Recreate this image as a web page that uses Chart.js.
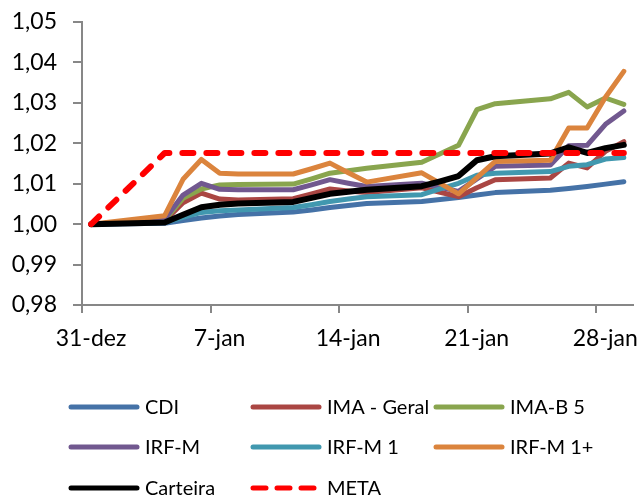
<!DOCTYPE html>
<html>
<head>
<meta charset="utf-8">
<script src="https://cdn.jsdelivr.net/npm/chart.js@4"></script>
<style>
  html, body { margin: 0; padding: 0; background: #fff; }
  #wrap { width: 641px; height: 498px; }
</style>
</head>
<body>
<div id="wrap"><canvas id="grafico" width="641" height="498"></canvas></div>
<script>
// dias úteis contados a partir de 31-dez
const dias = [0, 4, 5, 6, 7, 8, 11, 12, 13, 14, 15, 18, 19, 20, 21, 22, 25, 26, 27, 28, 29];
const diasTicks = [0, 7, 14, 21, 28];
const rotulosX = ['31-dez', '7-jan', '14-jan', '21-jan', '28-jan'];
const valoresY = [0.98, 0.99, 1.00, 1.01, 1.02, 1.03, 1.04, 1.05];

const cdi       = [1.0000, 1.0002, 1.0009, 1.0015, 1.0020, 1.0024, 1.0030, 1.0035, 1.0041, 1.0046, 1.0051, 1.0056, 1.0061, 1.0066, 1.0072, 1.0078, 1.0084, 1.0088, 1.0093, 1.0099, 1.0105];
const imaGeral  = [1.0000, 1.0008, 1.0053, 1.0077, 1.0062, 1.0060, 1.0063, 1.0075, 1.0087, 1.0082, 1.0078, 1.0090, 1.0079, 1.0068, 1.0090, 1.0110, 1.0114, 1.0151, 1.0139, 1.0180, 1.0204];
const imaB5     = [1.0000, 1.0010, 1.0064, 1.0087, 1.0097, 1.0098, 1.0099, 1.0112, 1.0126, 1.0132, 1.0138, 1.0153, 1.0174, 1.0195, 1.0283, 1.0298, 1.0310, 1.0326, 1.0290, 1.0312, 1.0296];
const irfM      = [1.0000, 1.0012, 1.0072, 1.0101, 1.0086, 1.0085, 1.0085, 1.0097, 1.0110, 1.0101, 1.0093, 1.0101, 1.0091, 1.0081, 1.0112, 1.0143, 1.0146, 1.0194, 1.0195, 1.0247, 1.0280];
const irfM1     = [1.0000, 1.0004, 1.0017, 1.0029, 1.0033, 1.0035, 1.0041, 1.0048, 1.0056, 1.0062, 1.0068, 1.0073, 1.0087, 1.0101, 1.0121, 1.0126, 1.0130, 1.0143, 1.0147, 1.0161, 1.0165];
const irfM1Mais = [1.0000, 1.0021, 1.0111, 1.0160, 1.0126, 1.0124, 1.0124, 1.0137, 1.0151, 1.0127, 1.0104, 1.0127, 1.0101, 1.0075, 1.0115, 1.0155, 1.0158, 1.0238, 1.0238, 1.0314, 1.0378];
const carteira  = [1.0000, 1.0004, 1.0023, 1.0042, 1.0048, 1.0051, 1.0055, 1.0065, 1.0075, 1.0080, 1.0085, 1.0094, 1.0106, 1.0119, 1.0158, 1.0168, 1.0175, 1.0190, 1.0176, 1.0188, 1.0196];
const meta      = [1.0000, 1.0176, 1.0176, 1.0176, 1.0176, 1.0176, 1.0176, 1.0176, 1.0176, 1.0176, 1.0176, 1.0176, 1.0176, 1.0176, 1.0176, 1.0176, 1.0176, 1.0176, 1.0176, 1.0176, 1.0176];

const series = [
    { nome: 'CDI',         valores: cdi,       cor: '#4572A7', largura: 5 },
    { nome: 'IMA - Geral', valores: imaGeral,  cor: '#AA4643', largura: 5 },
    { nome: 'IMA-B 5',     valores: imaB5,     cor: '#89A54E', largura: 5 },
    { nome: 'IRF-M',       valores: irfM,      cor: '#71588F', largura: 5 },
    { nome: 'IRF-M 1',     valores: irfM1,     cor: '#4198AF', largura: 5 },
    { nome: 'IRF-M 1+',    valores: irfM1Mais, cor: '#DB843D', largura: 5 },
    { nome: 'Carteira',    valores: carteira,  cor: '#000000', largura: 6 },
    { nome: 'META',        valores: meta,      cor: '#FF0000', largura: 6, tracejado: [11, 13] }
];

const fonte = 'Lato, "Open Sans", sans-serif';
const corEixo = '#878787';

// legenda em grade 3 colunas, como no original
const legendaGrade = {
    id: 'legendaGrade',
    afterDraw(chart) {
        const ctx = chart.ctx;
        const colX = [68, 250, 433];
        const linhaY = [407, 447, 488];
        ctx.save();
        ctx.font = '20px ' + fonte;
        ctx.textBaseline = 'middle';
        ctx.fillStyle = '#000';
        chart.data.datasets.forEach((ds, i) => {
            const x = colX[i % 3];
            const y = linhaY[Math.floor(i / 3)];
            ctx.beginPath();
            ctx.strokeStyle = ds.borderColor;
            ctx.lineWidth = 5;
            ctx.lineCap = 'round';
            ctx.setLineDash(ds.borderDash ? [13, 11] : []);
            ctx.moveTo(x + 3, y);
            ctx.lineTo(x + 69, y);
            ctx.stroke();
            ctx.setLineDash([]);
            ctx.fillText(ds.label, x + 77, y + 1);
        });
        ctx.restore();
    }
};

new Chart(document.getElementById('grafico').getContext('2d'), {
    type: 'line',
    data: {
        datasets: series.map((s, i) => ({
            label: s.nome,
            data: s.valores.map((v, j) => ({ x: dias[j] + 0.5, y: v })),
            borderColor: s.cor,
            backgroundColor: s.cor,
            borderWidth: s.largura,
            borderDash: s.tracejado,
            borderCapStyle: 'round',
            borderJoinStyle: 'round',
            pointRadius: 0,
            tension: 0,
            order: series.length - i
        }))
    },
    options: {
        responsive: false,
        animation: false,
        layout: { padding: { top: 22, right: 8, left: 0, bottom: 143 } },
        plugins: {
            legend: { display: false },
            tooltip: { enabled: false }
        },
        scales: {
            x: {
                type: 'linear',
                min: 0,
                max: 30,
                afterBuildTicks: axis => { axis.ticks = diasTicks.map(v => ({ value: v })); },
                afterFit: axis => {
                    axis.height = 50;
                    axis.paddingLeft = 0;
                    axis.paddingRight = 0;
                },
                ticks: {
                    callback: (v, i) => rotulosX[i],
                    labelOffset: 9,
                    maxRotation: 0,
                    autoSkip: false,
                    padding: 12,
                    color: '#000',
                    font: { family: fonte, size: 23 }
                },
                grid: { drawOnChartArea: false, drawTicks: true, tickLength: 8, color: corEixo, lineWidth: 2 },
                border: { display: true, color: corEixo, width: 2 }
            },
            y: {
                min: 0.98,
                max: 1.05,
                afterBuildTicks: axis => { axis.ticks = valoresY.map(v => ({ value: v })); },
                afterFit: axis => {
                    axis.width = 82;
                    axis.paddingTop = 0;
                    axis.paddingBottom = 0;
                },
                ticks: {
                    callback: v => v.toFixed(2).replace('.', ','),
                    padding: 16,
                    color: '#000',
                    font: { family: fonte, size: 23 }
                },
                grid: { drawOnChartArea: false, drawTicks: true, tickLength: 9, color: corEixo, lineWidth: 2 },
                border: { display: true, color: corEixo, width: 2 }
            }
        }
    },
    plugins: [legendaGrade]
});
</script>
</body>
</html>
